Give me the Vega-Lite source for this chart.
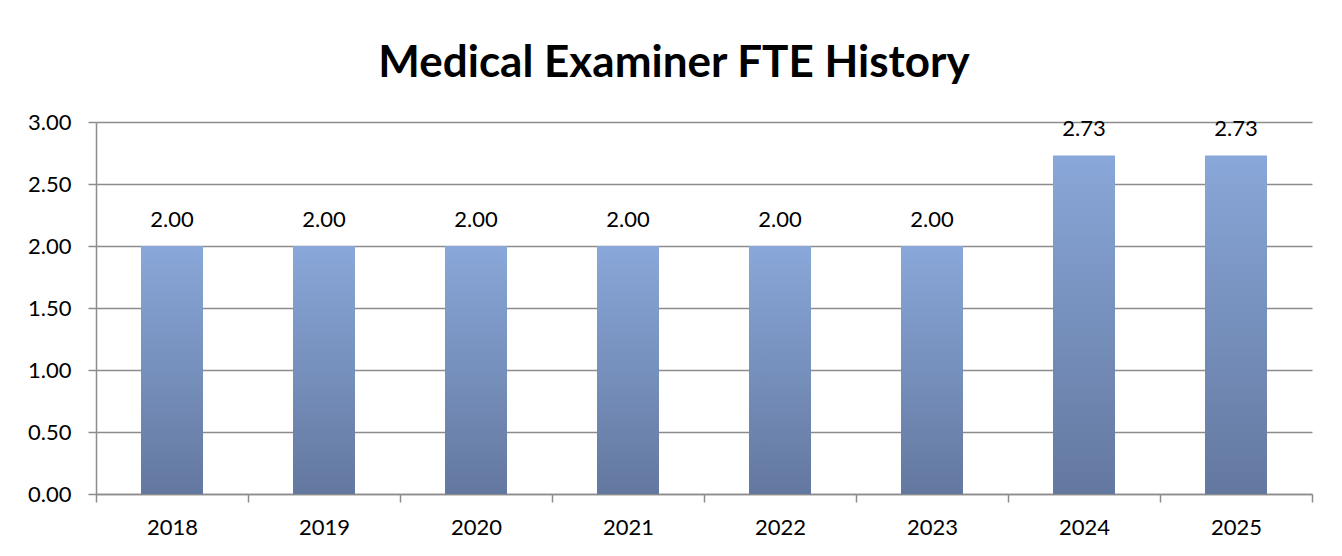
{
  "$schema": "https://vega.github.io/schema/vega-lite/v6.json",
  "width": 1216,
  "height": 372,
  "autosize": "none",
  "padding": {"left": 96, "top": 122, "right": 30, "bottom": 62},
  "background": "white",
  "config": {"view": {"stroke": null}, "font": "Lato"},
  "title": {
    "text": "Medical Examiner FTE History",
    "font": "Lato",
    "fontSize": 44,
    "fontWeight": "bold",
    "color": "black",
    "anchor": "middle",
    "frame": "group",
    "dx": -30,
    "baseline": "alphabetic",
    "offset": -10
  },
  "data": {
    "values": [
      {"year": "2018", "fte": 2.0},
      {"year": "2019", "fte": 2.0},
      {"year": "2020", "fte": 2.0},
      {"year": "2021", "fte": 2.0},
      {"year": "2022", "fte": 2.0},
      {"year": "2023", "fte": 2.0},
      {"year": "2024", "fte": 2.73},
      {"year": "2025", "fte": 2.73}
    ]
  },
  "encoding": {
    "x": {
      "field": "year",
      "type": "ordinal",
      "scale": {"paddingInner": 0, "paddingOuter": 0},
      "axis": {
        "title": null,
        "labelAngle": 0,
        "labelFontSize": 22,
        "labelColor": "black",
        "labelPadding": 15,
        "tickBand": "extent",
        "tickSize": 8,
        "tickColor": "#8c8c8c",
        "tickWidth": 1.5,
        "domainColor": "#8c8c8c",
        "domainWidth": 1.5,
        "grid": false
      }
    },
    "y": {
      "field": "fte",
      "type": "quantitative",
      "scale": {"domain": [0, 3]},
      "axis": {
        "title": null,
        "values": [0, 0.5, 1, 1.5, 2, 2.5, 3],
        "format": ".2f",
        "grid": true,
        "gridColor": "#8c8c8c",
        "gridWidth": 1.5,
        "domainColor": "#8c8c8c",
        "domainWidth": 1.5,
        "tickColor": "#8c8c8c",
        "tickWidth": 1.5,
        "tickSize": 8,
        "labelFontSize": 22,
        "labelColor": "black",
        "labelPadding": 17
      }
    }
  },
  "layer": [
    {
      "mark": {
        "type": "bar",
        "width": 62,
        "color": {
          "gradient": "linear",
          "x1": 0, "y1": 0, "x2": 0, "y2": 1,
          "stops": [
            {"offset": 0, "color": "#89a7d9"},
            {"offset": 1, "color": "#63789f"}
          ]
        }
      }
    },
    {
      "mark": {"type": "text", "dy": -19, "baseline": "alphabetic", "fontSize": 22, "font": "Lato", "color": "black"},
      "encoding": {"text": {"field": "fte", "type": "quantitative", "format": ".2f"}}
    }
  ]
}
